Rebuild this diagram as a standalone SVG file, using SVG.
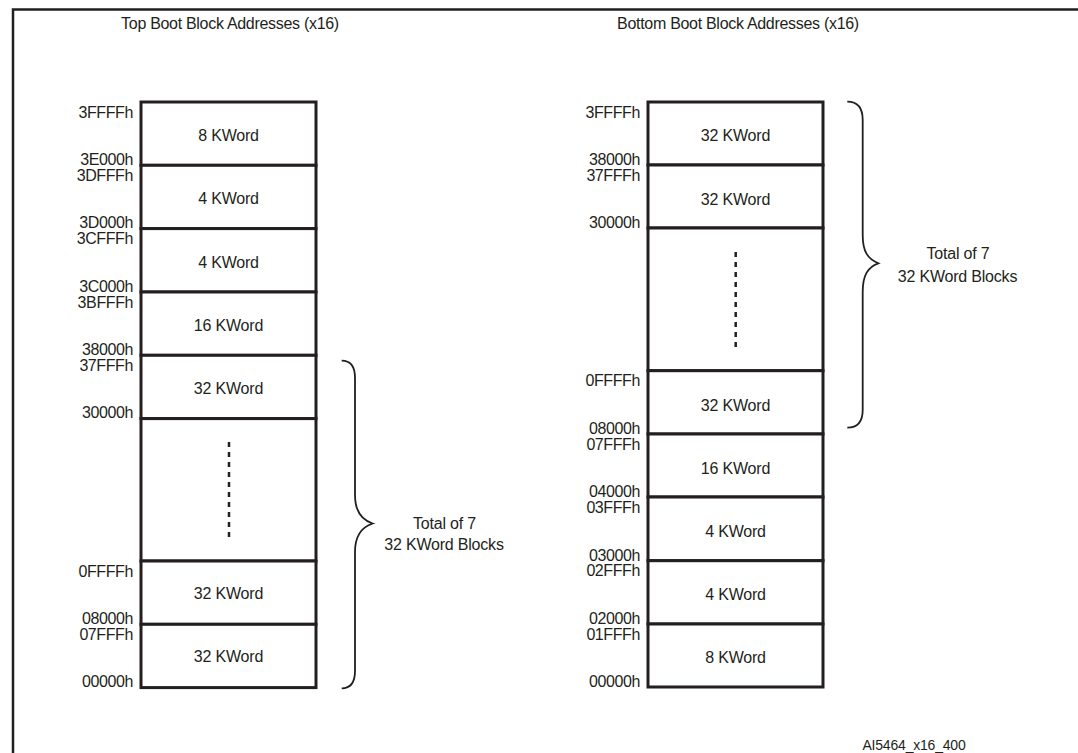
<svg xmlns="http://www.w3.org/2000/svg" width="1078" height="753" viewBox="0 0 1078 753">
<style>
text{font-family:"Liberation Sans",Arial,sans-serif;fill:#231f20}
.t{font-size:16px;letter-spacing:-0.3px}
.b{font-size:16px;text-anchor:middle;letter-spacing:-0.2px}
.l{font-size:16px;text-anchor:end;letter-spacing:-0.4px}
.blk{fill:#fff;stroke:#231f20;stroke-width:3}
.dash{stroke:#231f20;stroke-width:2.5;stroke-dasharray:5 5;fill:none}
.brace{fill:none;stroke:#231f20;stroke-width:1.8}
.frame{stroke:#231f20;stroke-width:2.5;fill:none}
</style>
<g id="frame"><path class="frame" d="M13,753 V9.5 H1078"/></g>
<g id="titles">
<text class="t" x="230" y="29" text-anchor="middle">Top Boot Block Addresses (x16)</text>
<text class="t" x="738" y="29" text-anchor="middle">Bottom Boot Block Addresses (x16)</text>
</g>
<g id="connectors"></g>
<!-- Top boot column -->
<g id="top-8k"><rect class="blk" x="141" y="102" width="175" height="63.3"/><text class="b" x="228.5" y="141">8 KWord</text></g>
<g id="top-4k-a"><rect class="blk" x="141" y="165.3" width="175" height="63.3"/><text class="b" x="228.5" y="204.3">4 KWord</text></g>
<g id="top-4k-b"><rect class="blk" x="141" y="228.6" width="175" height="63.4"/><text class="b" x="228.5" y="267.6">4 KWord</text></g>
<g id="top-16k"><rect class="blk" x="141" y="292" width="175" height="63.3"/><text class="b" x="228.5" y="331">16 KWord</text></g>
<g id="top-32k-a"><rect class="blk" x="141" y="355.3" width="175" height="63.3"/><text class="b" x="228.5" y="393.5">32 KWord</text></g>
<g id="top-32k-mid"><rect class="blk" x="141" y="418.6" width="175" height="142.4"/><line class="dash" x1="229" y1="442" x2="229" y2="538"/></g>
<g id="top-32k-b"><rect class="blk" x="141" y="561" width="175" height="63.3"/><text class="b" x="228.5" y="598.5">32 KWord</text></g>
<g id="top-32k-c"><rect class="blk" x="141" y="624.3" width="175" height="63.3"/><text class="b" x="228.5" y="661.5">32 KWord</text></g>
<g id="top-labels">
<text class="l" x="133" y="117.5">3FFFFh</text>
<text class="l" x="133" y="165">3E000h</text>
<text class="l" x="133" y="180.8">3DFFFh</text>
<text class="l" x="133" y="228.3">3D000h</text>
<text class="l" x="133" y="244">3CFFFh</text>
<text class="l" x="133" y="291.7">3C000h</text>
<text class="l" x="133" y="307.5">3BFFFh</text>
<text class="l" x="133" y="355">38000h</text>
<text class="l" x="133" y="370.8">37FFFh</text>
<text class="l" x="133" y="418.3">30000h</text>
<text class="l" x="133" y="576.5">0FFFFh</text>
<text class="l" x="133" y="624">08000h</text>
<text class="l" x="133" y="639.8">07FFFh</text>
<text class="l" x="133" y="687.3">00000h</text>
</g>
<g id="top-brace">
<path class="brace" d="M341.7,360.7 C350,360.7 355,365 355,378 L355,495 C355,512 362,520 372.7,523.5 C362,527 355,535 355,552 L355,671 C355,683 350,688.3 341.7,688.3"/>
<text class="b" x="444.5" y="529">Total of 7</text>
<text class="b" x="444" y="550">32 KWord Blocks</text>
</g>
<!-- Bottom boot column -->
<g id="bot-32k-a"><rect class="blk" x="648" y="102" width="175" height="63"/><text class="b" x="735.5" y="141">32 KWord</text></g>
<g id="bot-32k-b"><rect class="blk" x="648" y="165" width="175" height="63"/><text class="b" x="735.5" y="204.5">32 KWord</text></g>
<g id="bot-32k-mid"><rect class="blk" x="648" y="228" width="175" height="142.7"/><line class="dash" x1="735.7" y1="252" x2="735.7" y2="348"/></g>
<g id="bot-32k-c"><rect class="blk" x="648" y="370.7" width="175" height="63.3"/><text class="b" x="735.5" y="410.5">32 KWord</text></g>
<g id="bot-16k"><rect class="blk" x="648" y="434" width="175" height="63"/><text class="b" x="735.5" y="473.5">16 KWord</text></g>
<g id="bot-4k-a"><rect class="blk" x="648" y="497" width="175" height="63.7"/><text class="b" x="735.5" y="536.8">4 KWord</text></g>
<g id="bot-4k-b"><rect class="blk" x="648" y="560.7" width="175" height="63.3"/><text class="b" x="735.5" y="600">4 KWord</text></g>
<g id="bot-8k"><rect class="blk" x="648" y="624" width="175" height="63"/><text class="b" x="735.5" y="663">8 KWord</text></g>
<g id="bot-labels">
<text class="l" x="640" y="117.5">3FFFFh</text>
<text class="l" x="640" y="165">38000h</text>
<text class="l" x="640" y="180.5">37FFFh</text>
<text class="l" x="640" y="228">30000h</text>
<text class="l" x="640" y="386.2">0FFFFh</text>
<text class="l" x="640" y="434">08000h</text>
<text class="l" x="640" y="449.5">07FFFh</text>
<text class="l" x="640" y="497">04000h</text>
<text class="l" x="640" y="512.5">03FFFh</text>
<text class="l" x="640" y="560.5">03000h</text>
<text class="l" x="640" y="576.2">02FFFh</text>
<text class="l" x="640" y="624">02000h</text>
<text class="l" x="640" y="639.5">01FFFh</text>
<text class="l" x="640" y="687">00000h</text>
</g>
<g id="bot-brace">
<path class="brace" d="M847.3,101.7 C856,101.7 862.7,106 862.7,120 L862.7,235 C862.7,252 868,259 878.3,263.3 C868,267 862.7,275 862.7,292 L862.7,410 C862.7,423 856,427.7 847.3,427.7"/>
<text class="b" x="958" y="259.3">Total of 7</text>
<text class="b" x="957.5" y="281.7">32 KWord Blocks</text>
</g>
<g id="figure-id"><text x="914" y="750" font-size="14" text-anchor="middle" letter-spacing="-0.2">AI5464_x16_400</text></g>
</svg>
